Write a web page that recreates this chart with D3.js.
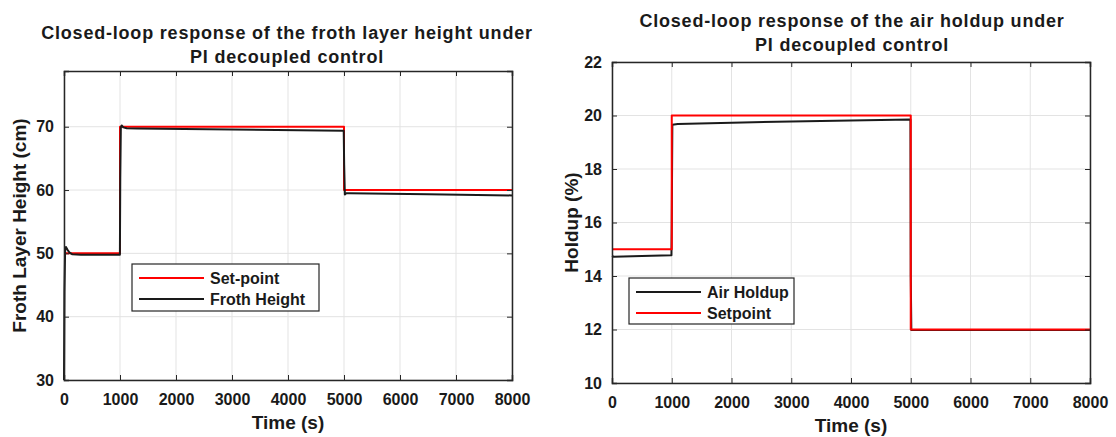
<!DOCTYPE html>
<html>
<head>
<meta charset="utf-8">
<script src="https://cdn.jsdelivr.net/npm/d3@7"></script>
<style>
  body { margin: 0; background: #fff; }
  svg text { font-family: "Liberation Sans", Arial, sans-serif; font-weight: bold; fill: #1a1a1a; }
</style>
</head>
<body>
<svg id="chart" width="1116" height="437"></svg>
<script>
// Froth layer height (left panel)
var frothSetTime = [0, 1000, 1000, 5000, 5000, 8000];
var frothSetVal  = [50, 50, 70, 70, 60, 60];
var frothTime = [0, 8, 20, 35, 60, 100, 150, 300, 998, 1005, 1015, 1030, 1060, 1120, 1300, 3000, 4995, 5003, 5015, 5040, 5100, 6500, 8000];
var frothVal  = [30, 44, 50.5, 51, 50.6, 50.1, 49.85, 49.8, 49.8, 62, 69.9, 70.2, 69.9, 69.75, 69.7, 69.55, 69.35, 64, 59.3, 59.5, 59.5, 59.35, 59.15];

// Air holdup (right panel)
var holdSetTime = [0, 1000, 1000, 5000, 5000, 8000];
var holdSetVal  = [15, 15, 20, 20, 12, 12];
var holdTime = [0, 30, 500, 995, 1000, 1010, 1100, 3000, 4995, 5000, 5010, 8000];
var holdVal  = [14.75, 14.72, 14.75, 14.78, 16, 19.65, 19.68, 19.78, 19.85, 14, 11.98, 11.98];

var timeTicks = [0, 1000, 2000, 3000, 4000, 5000, 6000, 7000, 8000];
var frothTicks = [30, 40, 50, 60, 70];
var holdTicks = [10, 12, 14, 16, 18, 20, 22];

var svg = d3.select("#chart");

// Draw one MATLAB-style panel
function drawPanel(opt) {
    var x = d3.scaleLinear().domain([0, 8000]).range([opt.x0, opt.x1]);
    var y = d3.scaleLinear().domain(opt.yDomain).range([opt.y0, opt.y1]);
    var g = svg.append("g");

    // grid
    g.selectAll(".vg").data(timeTicks).enter().append("line")
        .attr("x1", function (d) { return x(d); }).attr("x2", function (d) { return x(d); })
        .attr("y1", opt.y0).attr("y2", opt.y1)
        .style("stroke", "#e3e3e3").style("stroke-width", 1);
    g.selectAll(".hg").data(opt.yTicks).enter().append("line")
        .attr("x1", opt.x0).attr("x2", opt.x1)
        .attr("y1", function (d) { return y(d); }).attr("y2", function (d) { return y(d); })
        .style("stroke", "#e3e3e3").style("stroke-width", 1);

    // lines
    var line = d3.line()
        .x(function (d) { return x(d[0]); })
        .y(function (d) { return y(d[1]); });
    opt.series.forEach(function (s) {
        g.append("path")
            .datum(d3.zip(s.t, s.v))
            .attr("d", line)
            .style("fill", "none")
            .style("stroke", s.color)
            .style("stroke-width", 2)
            .style("stroke-linejoin", "round");
    });

    // axes (ticks inward on all sides)
    var fmt = d3.format("d");
    var ax = [
        d3.axisBottom(x).tickValues(timeTicks).tickSize(-5).tickPadding(14).tickFormat(fmt),
        d3.axisTop(x).tickValues(timeTicks).tickSize(-5).tickFormat(""),
        d3.axisLeft(y).tickValues(opt.yTicks).tickSize(-5).tickPadding(10).tickFormat(fmt),
        d3.axisRight(y).tickValues(opt.yTicks).tickSize(-5).tickFormat("")
    ];
    var pos = ["translate(0," + opt.y0 + ")", "translate(0," + opt.y1 + ")",
               "translate(" + opt.x0 + ",0)", "translate(" + opt.x1 + ",0)"];
    ax.forEach(function (a, i) {
        var ag = g.append("g").attr("transform", pos[i]).call(a);
        ag.attr("font-family", null).attr("font-size", null);
        ag.select(".domain").style("stroke", "#262626").style("stroke-width", 1.5);
        ag.selectAll(".tick line").style("stroke", "#262626");
        ag.selectAll("text").style("font-size", "16px").style("fill", "#1a1a1a");
    });

    // titles and labels
    var cx = (opt.x0 + opt.x1) / 2;
    opt.title.forEach(function (t, i) {
        g.append("text").attr("x", opt.titleX).attr("y", opt.titleY + i * 24)
            .attr("text-anchor", "middle").style("font-size", "18px")
            .style("letter-spacing", "0.8px").text(t);
    });
    g.append("text").attr("x", cx).attr("y", opt.xLabelY)
        .attr("text-anchor", "middle").style("font-size", "19px").text("Time (s)");
    g.append("text")
        .attr("transform", "translate(" + opt.yLabelX + "," + ((opt.y0 + opt.y1) / 2) + ") rotate(-90)")
        .attr("text-anchor", "middle").style("font-size", "19px").text(opt.yLabel);

    // legend
    var L = opt.legend;
    g.append("rect").attr("x", L.x).attr("y", L.y).attr("width", L.w).attr("height", L.h)
        .style("fill", "#fff").style("stroke", "#262626").style("stroke-width", 1.2);
    L.items.forEach(function (it, i) {
        var yy = L.y + 14 + i * 21;
        g.append("line").attr("x1", L.x + 7).attr("x2", L.x + 72)
            .attr("y1", yy).attr("y2", yy)
            .style("stroke", it.color).style("stroke-width", 2);
        g.append("text").attr("x", L.x + 78).attr("y", yy + 6)
            .style("font-size", "16px").text(it.name);
    });
}

drawPanel({
    x0: 64, x1: 512, y0: 380, y1: 71,
    yDomain: [30, 78.8], yTicks: frothTicks,
    series: [
        { t: frothSetTime, v: frothSetVal, color: "#ff0000" },
        { t: frothTime, v: frothVal, color: "#1a1a1a" }
    ],
    title: ["Closed-loop response of the froth layer height under", "PI decoupled control"],
    titleX: 287, titleY: 39,
    xLabelY: 429, yLabelX: 26, yLabel: "Froth Layer Height (cm)",
    legend: { x: 132, y: 264, w: 187, h: 47,
        items: [{ name: "Set-point", color: "#ff0000" }, { name: "Froth Height", color: "#1a1a1a" }] }
});

drawPanel({
    x0: 612, x1: 1090, y0: 383, y1: 62,
    yDomain: [10, 22], yTicks: holdTicks,
    series: [
        { t: holdTime, v: holdVal, color: "#1a1a1a" },
        { t: holdSetTime, v: holdSetVal, color: "#ff0000" }
    ],
    title: ["Closed-loop response of the air holdup under", "PI decoupled control"],
    titleX: 852, titleY: 27,
    xLabelY: 432, yLabelX: 578, yLabel: "Holdup (%)",
    legend: { x: 629, y: 278, w: 165, h: 46,
        items: [{ name: "Air Holdup", color: "#1a1a1a" }, { name: "Setpoint", color: "#ff0000" }] }
});
</script>
</body>
</html>
